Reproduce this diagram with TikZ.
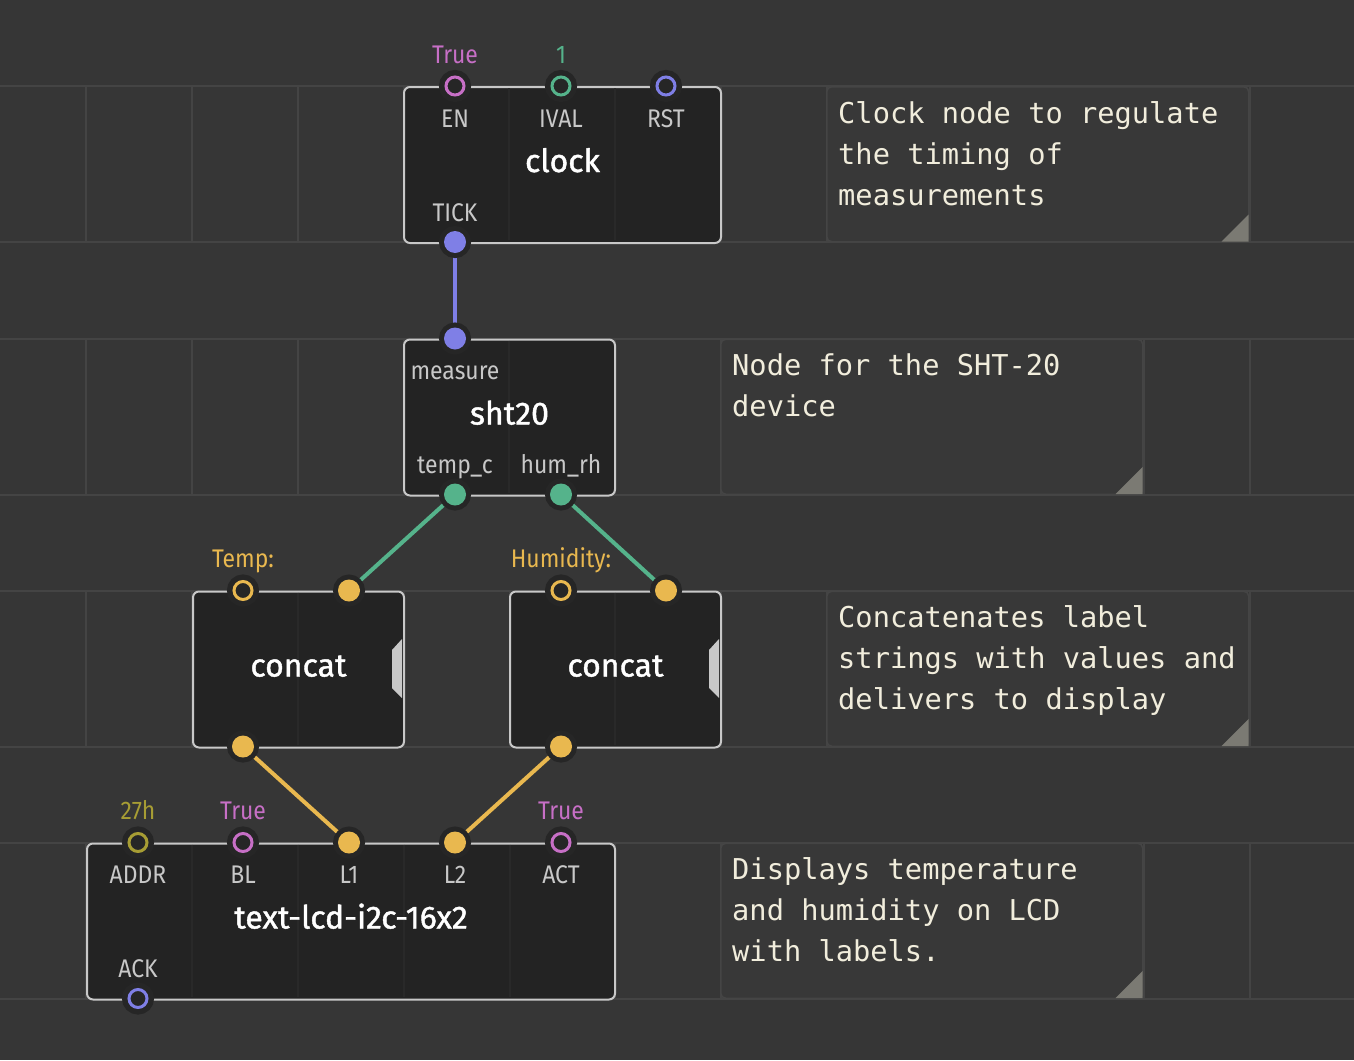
\documentclass[tikz,border=0pt]{standalone}
\usepackage{fontspec}
\setmainfont{Fira Sans}
\newfontfamily\monof{DejaVu Sans Mono}
\newfontfamily\titlef{Fira Sans}[FakeBold=1.3]
\newfontfamily\labf{Fira Sans}[FakeStretch=0.9]
\usetikzlibrary{calc}
\definecolor{bgc}{HTML}{363636}
\definecolor{gridc}{HTML}{444444}
\definecolor{bodyc}{HTML}{232323}
\definecolor{bordc}{HTML}{C8C8C8}
\definecolor{slotc}{HTML}{292929}
\definecolor{haloc}{HTML}{262626}
\definecolor{labc}{HTML}{C8C8C8}
\definecolor{pulsec}{HTML}{7F7FE6}
\definecolor{boolc}{HTML}{C76FC6}
\definecolor{numc}{HTML}{55B38B}
\definecolor{strc}{HTML}{E9B84F}
\definecolor{bytec}{HTML}{A79D34}
\definecolor{comfill}{HTML}{383838}
\definecolor{combord}{HTML}{454545}
\definecolor{comtext}{HTML}{F1EDDC}
\definecolor{cornc}{HTML}{7B7A73}
\definecolor{tabc}{HTML}{C8C8C8}
\pgfdeclarelayer{bg}
\pgfdeclarelayer{lk}
\pgfsetlayers{bg,lk,main}
\tikzset{
  gridline/.style={draw=gridc, line width=2pt},
  body/.style={rectangle, draw=bordc, fill=bodyc, line width=2pt, rounded corners=6pt, inner sep=0pt, anchor=north west},
  slotline/.style={draw=slotc, line width=2pt},
  ptitle/.style={text=white, font=\titlef\fontsize{32}{38}\selectfont, anchor=base, inner sep=0pt},
  plabel/.style={text=labc, font=\labf\fontsize{25.5}{30}\selectfont, anchor=base, inner sep=0pt},
  pval/.style={text=#1, font=\labf\fontsize{25.5}{30}\selectfont, anchor=base, inner sep=0pt},
  pinring/.style={circle, inner sep=0pt, minimum size=18pt, draw=#1, line width=3pt, fill=haloc, preaction={draw=haloc, line width=14pt}},
  pinfull/.style={circle, inner sep=0pt, minimum size=22pt, fill=#1, preaction={draw=haloc, line width=10pt}},
  link/.style={draw=#1, line width=4pt},
  comment/.style={rectangle, draw=combord, fill=comfill, line width=1.5pt, rounded corners=5pt, anchor=north west, inner sep=0pt, minimum width=422pt, minimum height=155pt},
  ctext/.style={text=comtext, font=\monof\fontsize{28.7}{41}\selectfont, align=left, anchor=north west, inner sep=0pt},
}
\begin{document}
\begin{tikzpicture}[x=1pt, y=-1pt]
\useasboundingbox (0,0) rectangle (1354,1060);
\begin{pgfonlayer}{bg}
\fill[bgc] (0,0) rectangle (1354,1060);
\foreach \t/\b in {86/242,338.5/494.5,590.5/746.5,842.5/998.5}{
  \draw[gridline] (0,\t) -- (1354,\t) (0,\b) -- (1354,\b);
  \foreach \x in {86,192,298,404,510,615,721,827,933,1039,1144,1250}
    \draw[gridline] (\x,\t) -- (\x,\b);
}
% comments
\node[comment] (c1) at (826,86) {};
\node[comment] (c2) at (720,338.5) {};
\node[comment] (c3) at (826,590.5) {};
\node[comment] (c4) at (720,842.5) {};
\foreach \c in {c1,c2,c3,c4}
  \fill[cornc] ([xshift=-28pt,yshift=1pt]\c.south east) -- ([xshift=-1pt,yshift=1pt]\c.south east) -- ([xshift=-1pt,yshift=28pt]\c.south east) -- cycle;
% node bodies
\node[body, minimum width=317pt, minimum height=156pt] (clock) at (403,86) {};
\node[body, minimum width=211pt, minimum height=156pt] (sht) at (403,338.5) {};
\node[body, minimum width=211pt, minimum height=156pt] (cat1) at (192,590.5) {};
\node[body, minimum width=211pt, minimum height=156pt] (cat2) at (509,590.5) {};
\node[body, minimum width=528pt, minimum height=156pt] (lcd) at (86,842.5) {};
\draw[slotline] (509,88) -- (509,240) (615,88) -- (615,240);
\draw[slotline] (509,340.5) -- (509,492.5);
\draw[slotline] (298,592.5) -- (298,744.5);
\draw[slotline] (615,592.5) -- (615,744.5);
\foreach \x in {192,298,404,510} \draw[slotline] (\x,844.5) -- (\x,996.5);
% variadic tabs
\fill[tabc] (402,639) -- (392,650) -- (392,688) -- (402,698) -- cycle;
\fill[tabc] (719,639) -- (709,650) -- (709,688) -- (719,698) -- cycle;
\end{pgfonlayer}

% comment texts
\node[ctext] (c1t) at (838,101) {Clock node to regulate\\the timing of\\measurements};
\node[ctext] (c2t) at (732,353.5) {Node for the SHT-20\\device};
\node[ctext] (c3t) at (838,605.5) {Concatenates label\\strings with values and\\delivers to display};
\node[ctext] (c4t) at (732,857.5) {Displays temperature\\and humidity on LCD\\with labels.};

% titles
\node[ptitle] (clock-t) at ([yshift=-86pt]clock.north) {clock};
\node[ptitle] (sht-t) at ([yshift=-86pt]sht.north) {sht20};
\node[ptitle] (cat1-t) at ([yshift=-86pt]cat1.north) {concat};
\node[ptitle] (cat2-t) at ([yshift=-86pt]cat2.north) {concat};
\node[ptitle] (lcd-t) at ([yshift=-86pt]lcd.north) {text-lcd-i2c-16x2};

% pins
\node[pinring=boolc] (en) at (455,86) {};
\node[pinring=numc] (ival) at (561,86) {};
\node[pinring=pulsec] (rst) at (666,86) {};
\node[pinfull=pulsec] (tick) at (455,242) {};
\node[pinfull=pulsec] (measure) at (455,338.5) {};
\node[pinfull=numc] (tempc) at (455,494.5) {};
\node[pinfull=numc] (humrh) at (561,494.5) {};
\node[pinring=strc] (c1a) at (243,590.5) {};
\node[pinfull=strc] (c1b) at (349,590.5) {};
\node[pinfull=strc] (c1o) at (243,746.5) {};
\node[pinring=strc] (c2a) at (561,590.5) {};
\node[pinfull=strc] (c2b) at (666,590.5) {};
\node[pinfull=strc] (c2o) at (561,746.5) {};
\node[pinring=bytec] (addr) at (138,842.5) {};
\node[pinring=boolc] (bl) at (243,842.5) {};
\node[pinfull=strc] (l1) at (349,842.5) {};
\node[pinfull=strc] (l2) at (455,842.5) {};
\node[pinring=boolc] (act) at (561,842.5) {};
\node[pinring=pulsec] (ack) at (138,998.5) {};

% links
\begin{pgfonlayer}{lk}
\draw[link=pulsec] (tick.center) -- (measure.center);
\draw[link=numc] (tempc.center) -- (c1b.center);
\draw[link=numc] (humrh.center) -- (c2b.center);
\draw[link=strc] (c1o.center) -- (l1.center);
\draw[link=strc] (c2o.center) -- (l2.center);
\end{pgfonlayer}

% pin labels
\node[plabel] (en-l) at ([yshift=-41pt]en.center) {EN};
\node[plabel] (ival-l) at ([yshift=-41pt]ival.center) {IVAL};
\node[plabel] (rst-l) at ([yshift=-41pt]rst.center) {RST};
\node[plabel] (tick-l) at ([yshift=21pt]tick.center) {TICK};
\node[plabel] (measure-l) at ([yshift=-41pt]measure.center) {measure};
\node[plabel] (tempc-l) at ([yshift=21pt]tempc.center) {temp\_c};
\node[plabel] (humrh-l) at ([yshift=21pt]humrh.center) {hum\_rh};
\node[plabel] (addr-l) at ([yshift=-41pt]addr.center) {ADDR};
\node[plabel] (bl-l) at ([yshift=-41pt]bl.center) {BL};
\node[plabel] (l1-l) at ([yshift=-41pt]l1.center) {L1};
\node[plabel] (l2-l) at ([yshift=-41pt]l2.center) {L2};
\node[plabel] (act-l) at ([yshift=-41pt]act.center) {ACT};
\node[plabel] (ack-l) at ([yshift=21pt]ack.center) {ACK};
% values
\node[pval=boolc] (en-v) at ([yshift=23pt]en.center) {True};
\node[pval=numc] (ival-v) at ([yshift=23pt]ival.center) {1};
\node[pval=strc] (c1a-v) at ([yshift=23pt]c1a.center) {Temp:};
\node[pval=strc] (c2a-v) at ([yshift=23pt]c2a.center) {Humidity:};
\node[pval=bytec] (addr-v) at ([yshift=23pt]addr.center) {27h};
\node[pval=boolc] (bl-v) at ([yshift=23pt]bl.center) {True};
\node[pval=boolc] (act-v) at ([yshift=23pt]act.center) {True};
\end{tikzpicture}
\end{document}
